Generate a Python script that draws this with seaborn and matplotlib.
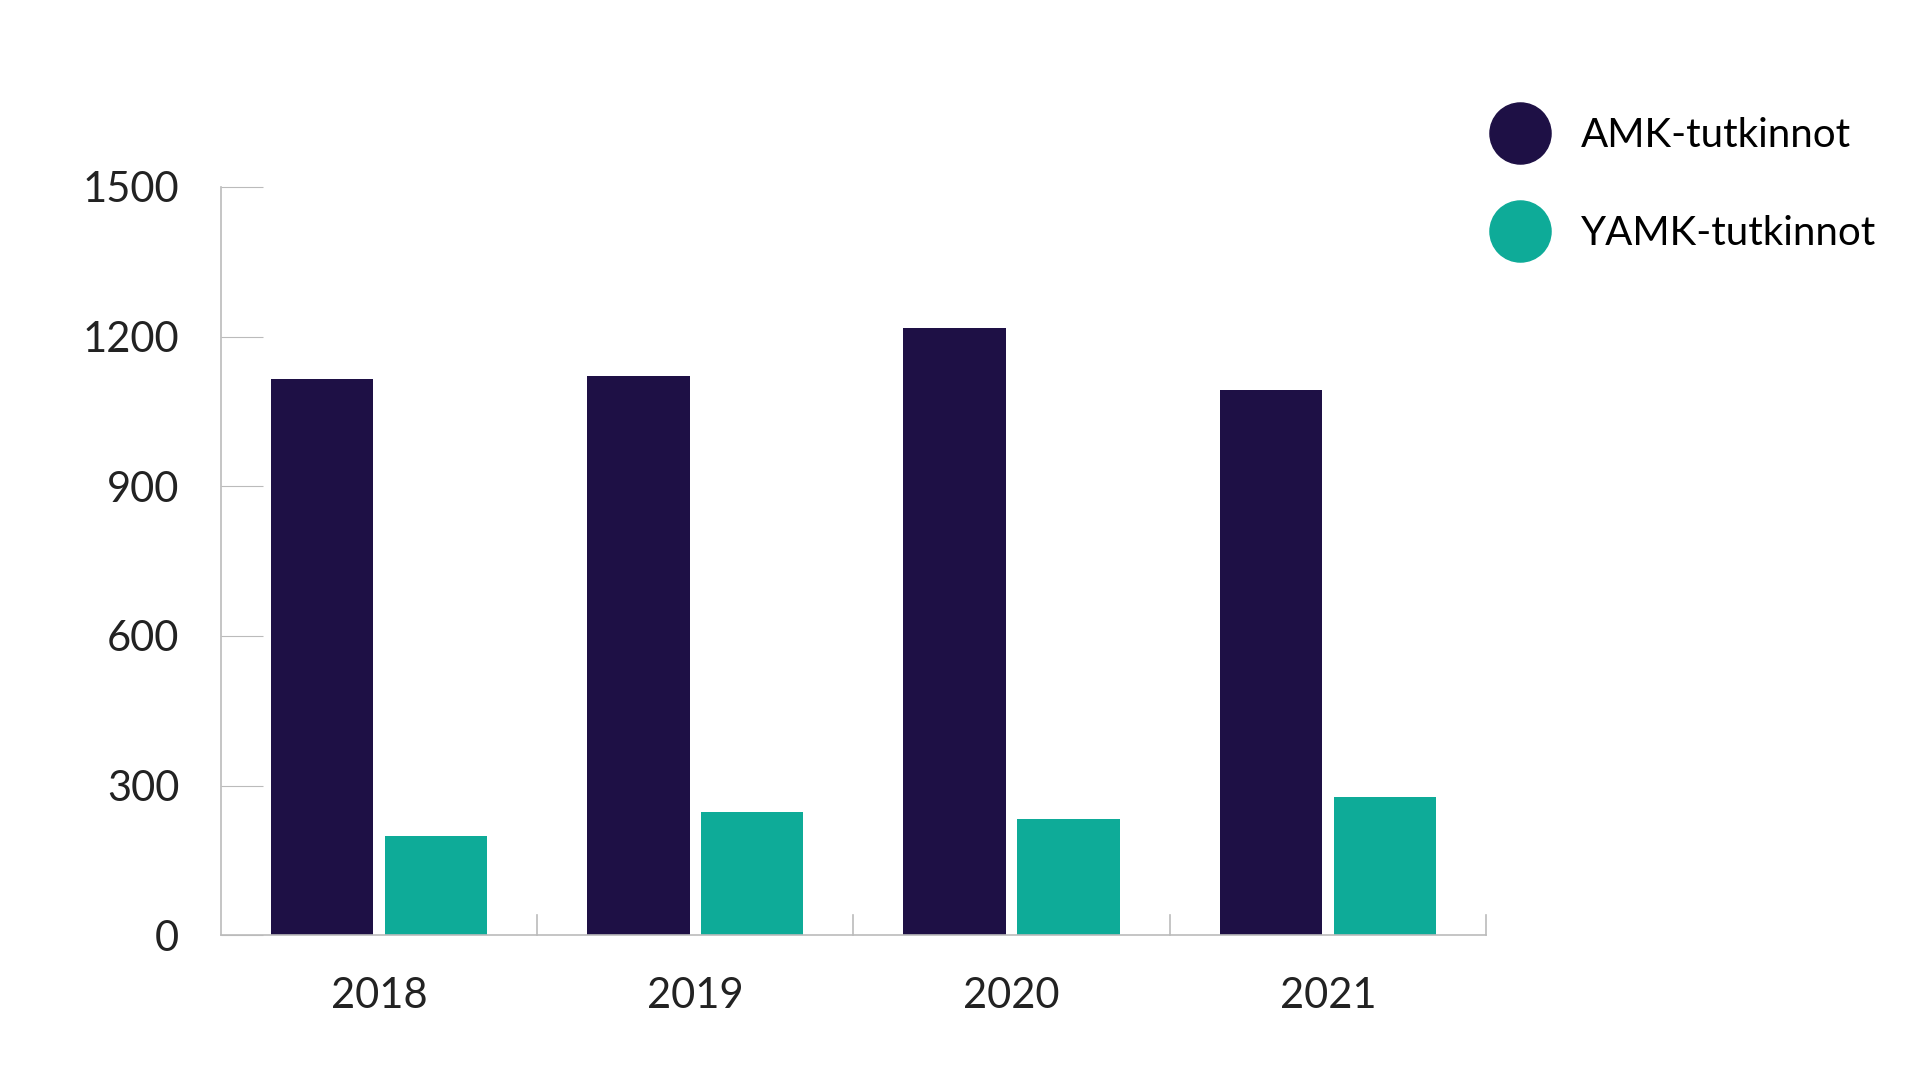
import pandas as pd
import matplotlib.pyplot as plt
import seaborn as sns
from matplotlib.lines import Line2D

years = ["2018", "2019", "2020", "2021"]
amk = [1114, 1121, 1217, 1092]
yamk = [199, 248, 234, 278]
series = ["AMK-tutkinnot", "YAMK-tutkinnot"]
colors = ["#1e1045", "#0eab98"]

df = pd.DataFrame({
    "year": years * 2,
    "value": amk + yamk,
    "series": [series[0]] * 4 + [series[1]] * 4,
})

plt.rcParams["font.family"] = "Lato"
fig = plt.figure(figsize=(19.2, 10.8), dpi=100)
ax = fig.add_axes([0.115, 0.134, 0.659, 0.693])

sns.barplot(data=df, x="year", y="value", hue="series", palette=colors,
            width=0.72, gap=0.1, legend=False, ax=ax, saturation=1)

ax.set_xlim(-0.5, 3.5)
ax.set_ylim(0, 1500)
ax.set_yticks([0, 300, 600, 900, 1200, 1500])
ax.set_xlabel("")
ax.set_ylabel("")
for s in ["top", "right"]:
    ax.spines[s].set_visible(False)
for s in ["left", "bottom"]:
    ax.spines[s].set_color("#bbbbbb")
    ax.spines[s].set_linewidth(1.2)

ax.tick_params(axis="y", direction="in", length=30, color="#bbbbbb",
               labelsize=30, pad=30, labelcolor="#222222")
ax.tick_params(axis="x", length=0, labelsize=30, pad=30, labelcolor="#222222")
for b in [0.5, 1.5, 2.5, 3.5]:
    ax.plot([b, b], [0, 40], color="#bbbbbb", lw=1.2, clip_on=False)

handles = [Line2D([0], [0], marker="o", ls="", markersize=44,
                  markerfacecolor=c, markeredgecolor=c) for c in colors]
fig.legend(handles, series, loc="upper left", bbox_to_anchor=(0.752, 0.925),
           frameon=False, fontsize=29, labelspacing=1.5, handletextpad=0.5)

fig.savefig("out.png", dpi=100, facecolor="white")
